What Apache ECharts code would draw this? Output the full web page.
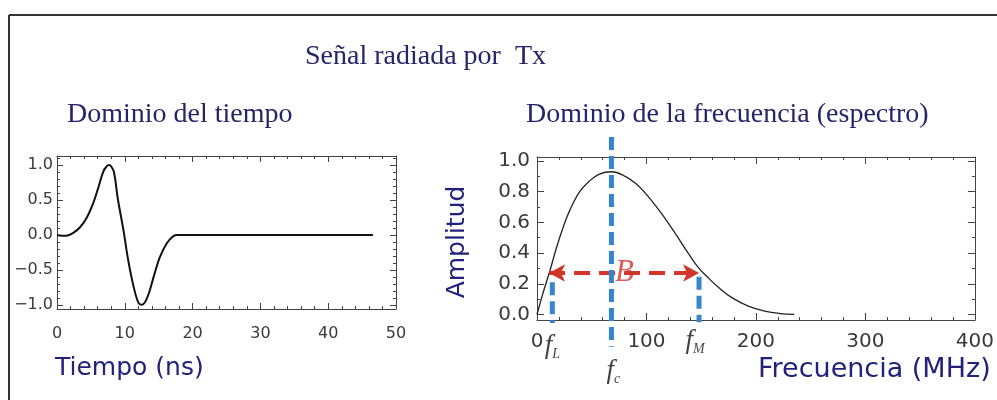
<!DOCTYPE html>
<html>
<head>
<meta charset="utf-8">
<title>Señal radiada por Tx</title>
<script src="https://cdn.jsdelivr.net/npm/echarts@6/dist/echarts.min.js"></script>
<style>
  html, body { margin: 0; padding: 0; background: #fff; }
  #chart { width: 997px; height: 400px; }
</style>
</head>
<body>
<div id="chart"></div>
<script>
// Time-domain pulse (ns, normalised amplitude)
const pulseTime = [0, 0.7, 1.4, 2.4, 3.4, 4.4, 5.4, 6.1, 6.8, 7.3, 7.7, 8.0, 8.4, 9.0, 9.8, 10.5, 11.3, 12.0, 12.5, 13.0, 13.6, 14.4, 15.2, 16.2, 17.0, 17.6, 20, 46.6];
const pulseAmp  = [0, -0.01, -0.01, 0.03, 0.11, 0.25, 0.47, 0.68, 0.9, 0.98, 1.0, 0.98, 0.9, 0.5, 0.07, -0.36, -0.74, -0.97, -1.0, -0.96, -0.82, -0.55, -0.31, -0.12, -0.03, 0, 0, 0];

// Spectrum magnitude (MHz, normalised amplitude)
const specFreq = [0, 5.5, 12, 18, 24, 30, 39, 48, 57, 68, 78, 90, 102, 114, 127, 139, 148, 157, 166, 178, 193, 208, 222, 235];
const specAmp  = [0.0, 0.14, 0.29, 0.44, 0.57, 0.68, 0.80, 0.87, 0.915, 0.93, 0.91, 0.855, 0.765, 0.655, 0.52, 0.39, 0.30, 0.235, 0.175, 0.11, 0.055, 0.022, 0.006, 0];

// Tick values
const timeTicks = [0, 10, 20, 30, 40, 50];
const pulseTicks = [-1.0, -0.5, 0.0, 0.5, 1.0];
const freqTicks = [0, 100, 200, 300, 400];
const ampTicks = [0.0, 0.2, 0.4, 0.6, 0.8, 1.0];

// Band markers: lower, centre and upper frequency (MHz) and bandwidth level
const markerNames = ['L', 'c', 'M'];
const markerFreq = [14, 68, 148];
const bandEdges = [11, 148];
const bandLevel = 0.27;
const bandLabelFreq = 80;

function range(a, b, step) {
  const out = [];
  for (let v = a; v <= b + 1e-9; v += step) out.push(+v.toFixed(6));
  return out;
}

const AXIS_COLOR = '#444';

// Four axes per dimension: labelled main axis, mirrored opposite axis, and minor-tick twins.
function axisGroup(kind, gridIndex, min, max, majors, minors, labelCfg, majorLen) {
  const pos = kind === 'x' ? ['bottom', 'top'] : ['left', 'right'];
  const base = {
    type: 'value', gridIndex, min, max,
    splitLine: { show: false },
    axisPointer: { show: false }
  };
  const list = [];
  pos.forEach((p, i) => {
    list.push(Object.assign({}, base, {
      position: p,
      axisLine: { show: true, onZero: false, lineStyle: { color: AXIS_COLOR, width: 1 } },
      axisTick: { show: true, inside: true, length: majorLen, customValues: majors, lineStyle: { color: AXIS_COLOR } },
      axisLabel: i === 0 ? Object.assign({ show: true, customValues: majors }, labelCfg) : { show: false }
    }));
    list.push(Object.assign({}, base, {
      position: p,
      axisLine: { show: false, onZero: false },
      axisTick: { show: true, inside: true, length: 3, customValues: minors, lineStyle: { color: AXIS_COLOR } },
      axisLabel: { show: false }
    }));
  });
  return list;
}

const leftLabel = {
  fontFamily: 'DejaVu Sans', fontSize: 16, color: '#3a3a3a'
};
const rightLabel = {
  fontFamily: 'DejaVu Sans', fontSize: 20, color: '#3a3a3a'
};

const xAxes = [].concat(
  axisGroup('x', 0, 0, 50, timeTicks, range(0, 50, 2),
    Object.assign({ margin: 17, formatter: v => String(v) }, leftLabel), 6),
  axisGroup('x', 1, 0, 400, freqTicks, range(0, 400, 20),
    Object.assign({ margin: 12, formatter: v => String(v) }, rightLabel), 7)
);
const yAxes = [].concat(
  axisGroup('y', 0, -1.06, 1.13, pulseTicks, range(-1.0, 1.1, 0.1),
    Object.assign({ margin: 4, formatter: v => (v < 0 ? '\u2212' : '') + Math.abs(v).toFixed(1) }, leftLabel), 6),
  axisGroup('y', 1, -0.036, 1.026, ampTicks, range(0, 1.0, 0.1),
    Object.assign({ margin: 7, formatter: v => v.toFixed(1) }, rightLabel), 7)
);

// axis indices of the main axes for each panel
const TIME_X = 0, FREQ_X = 4, PULSE_Y = 0, AMP_Y = 4;

const BLUE = '#3586cf';
const RED = '#d2352a';

// vertical extents (amplitude units) of the dashed frequency markers
const markerSpan = [[0.21, -0.055], [1.156, -0.21], [0.245, -0.05]];
// label placement offsets (px) for the marker names below the axis
const markerLabelOffset = [[0, 26], [2, 51], [-4, 21]];

const series = [
  {
    type: 'line', xAxisIndex: TIME_X, yAxisIndex: PULSE_Y,
    data: pulseTime.map((t, i) => [t, pulseAmp[i]]),
    smooth: 0.35, symbol: 'none',
    lineStyle: { color: '#111', width: 2 },
    silent: true
  },
  {
    type: 'line', xAxisIndex: FREQ_X, yAxisIndex: AMP_Y,
    data: specFreq.map((f, i) => [f, specAmp[i]]),
    smooth: 0.4, symbol: 'none',
    lineStyle: { color: '#222', width: 1.3 },
    silent: true
  },
  // bandwidth double arrow
  {
    type: 'line', xAxisIndex: FREQ_X, yAxisIndex: AMP_Y, data: [],
    z: 3,
    markLine: {
      silent: true, animation: false,
      symbol: ['arrow', 'arrow'], symbolSize: [13, 16],
      label: { show: false },
      lineStyle: { color: RED, width: 4, type: [16, 9] },
      data: [[{ coord: [bandEdges[0], bandLevel] }, { coord: [bandEdges[1], bandLevel] }]]
    }
  },
  // "B" bandwidth label
  {
    type: 'scatter', xAxisIndex: FREQ_X, yAxisIndex: AMP_Y, z: 4,
    symbolSize: 0, silent: true,
    data: [[bandLabelFreq, bandLevel]],
    label: {
      show: true, position: 'inside', formatter: 'B',
      fontFamily: 'Liberation Serif', fontStyle: 'italic', fontSize: 31,
      color: RED, backgroundColor: '#fff', padding: [0, 1]
    }
  }
];

markerFreq.forEach((f, i) => {
  series.push({
    type: 'line', xAxisIndex: FREQ_X, yAxisIndex: AMP_Y, z: 5,
    clip: false, symbol: 'none', silent: true,
    data: [[f, markerSpan[i][0]], [f, markerSpan[i][1]]],
    lineStyle: { color: BLUE, width: 5, type: [13, 6] }
  });
  series.push({
    type: 'scatter', xAxisIndex: FREQ_X, yAxisIndex: AMP_Y, z: 6,
    clip: false, symbolSize: 0, silent: true,
    data: [[f, -0.036]],
    label: {
      show: true, position: 'inside', offset: markerLabelOffset[i],
      formatter: '{f|f}{s|' + markerNames[i] + '}',
      rich: {
        f: { fontFamily: 'Liberation Serif', fontStyle: 'italic', fontSize: 27, color: '#111' },
        s: { fontFamily: 'Liberation Serif', fontStyle: 'italic', fontSize: 14, color: '#111', padding: [16, 0, 0, 0] }
      }
    }
  });
});

const NAVY = '#25256a';
const AXIS_TITLE = '#22227c';

const graphic = [
  { type: 'line', shape: { x1: 9, y1: 15, x2: 997, y2: 15 }, style: { stroke: '#333', lineWidth: 2 }, silent: true },
  { type: 'line', shape: { x1: 9, y1: 15, x2: 9, y2: 400 }, style: { stroke: '#333', lineWidth: 2 }, silent: true },
  { type: 'text', x: 305, y: 57, style: { text: 'Señal radiada por  Tx', fontFamily: 'Liberation Serif', fontSize: 28, fill: NAVY, verticalAlign: 'middle' } },
  { type: 'text', x: 67, y: 115, style: { text: 'Dominio del tiempo', fontFamily: 'Liberation Serif', fontSize: 28, fill: NAVY, verticalAlign: 'middle' } },
  { type: 'text', x: 526, y: 115, style: { text: 'Dominio de la frecuencia (espectro)', fontFamily: 'Liberation Serif', fontSize: 28, fill: NAVY, verticalAlign: 'middle' } },
  { type: 'text', x: 55, y: 368, style: { text: 'Tiempo (ns)', fontFamily: 'DejaVu Sans', fontSize: 25, fill: AXIS_TITLE, verticalAlign: 'middle' } },
  { type: 'text', x: 758, y: 370, style: { text: 'Frecuencia (MHz)', fontFamily: 'DejaVu Sans', fontSize: 27, fill: AXIS_TITLE, verticalAlign: 'middle' } },
  { type: 'text', x: 457, y: 242, rotation: Math.PI / 2, style: { text: 'Amplitud', fontFamily: 'DejaVu Sans', fontSize: 25, fill: AXIS_TITLE, align: 'center', verticalAlign: 'middle' } }
];

const chart = echarts.init(document.getElementById('chart'), null, { renderer: 'canvas' });
chart.setOption({
  animation: false,
  backgroundColor: '#fff',
  grid: [
    { left: 57, top: 156, width: 339, height: 153 },
    { left: 537, top: 157, width: 441, height: 163 }
  ],
  xAxis: xAxes,
  yAxis: yAxes,
  series,
  graphic
});
</script>
</body>
</html>
